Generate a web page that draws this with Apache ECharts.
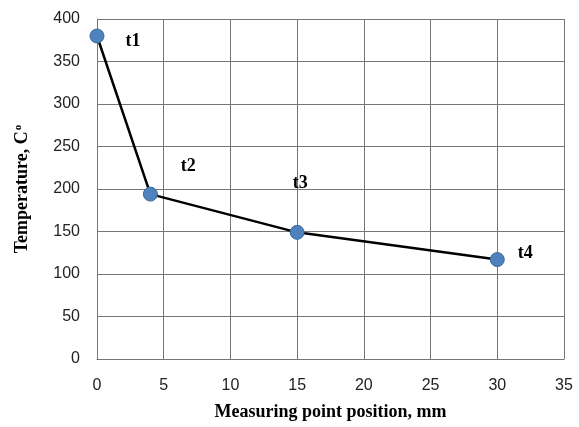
<!DOCTYPE html>
<html><head><meta charset="utf-8">
<script src="https://cdn.jsdelivr.net/npm/echarts@6/dist/echarts.min.js"></script>
<style>html,body{margin:0;padding:0;background:#fff}#c{width:579px;height:427px}</style>
</head><body><div id="c"></div>
<script>
var xValues = [0, 4, 15, 30];
var temps = [380, 194, 149, 117];
var pointLabels = ['t1', 't2', 't3', 't4'];
var labelOffsets = [[36, 5], [38, -28], [3, -49], [28, -6]];

var chart = echarts.init(document.getElementById('c'));
var data = xValues.map(function (x, i) {
  return {
    value: [x, temps[i]],
    label: { show: true, formatter: pointLabels[i], position: 'inside', offset: labelOffsets[i] }
  };
});
chart.setOption({
  animation: false,
  grid: { left: 97, right: 15, top: 19, bottom: 68, containLabel: false, outerBoundsMode: 'none' },
  xAxis: {
    type: 'value', min: 0, max: 35, interval: 5,
    name: 'Measuring point position, mm', nameLocation: 'middle', nameGap: 44,
    nameTextStyle: { fontFamily: 'Liberation Serif', fontWeight: 'bold', fontSize: 18, color: '#000' },
    axisLine: { show: true, lineStyle: { color: '#777', width: 1 } },
    axisTick: { show: false },
    axisLabel: { fontFamily: 'Liberation Sans', fontSize: 16, color: '#222', margin: 19 },
    splitLine: { show: true, lineStyle: { color: '#777', width: 1 } }
  },
  yAxis: {
    type: 'value', min: 0, max: 400, interval: 50,
    name: 'Temperature, C{sup|o}', nameLocation: 'middle', nameGap: 65, nameRotate: 90,
    nameTextStyle: { fontFamily: 'Liberation Serif', fontWeight: 'bold', fontSize: 18, color: '#000',
      rich: { sup: { fontFamily: 'Liberation Serif', fontSize: 11, verticalAlign: 'top', padding: [0,0,8,1], color: '#000' } } },
    axisLine: { show: true, lineStyle: { color: '#777', width: 1 } },
    axisTick: { show: false },
    axisLabel: { fontFamily: 'Liberation Sans', fontSize: 16, color: '#222', margin: 17 },
    splitLine: { show: true, lineStyle: { color: '#777', width: 1 } }
  },
  series: [{
    type: 'line',
    data: data,
    symbol: 'circle', symbolSize: 14,
    lineStyle: { color: '#000', width: 2.5 },
    itemStyle: { color: '#4F81BD', borderColor: '#3a6aa0', borderWidth: 1 },
    label: { fontFamily: 'Liberation Serif', fontWeight: 'bold', fontSize: 18, color: '#000' }
  }]
});
</script></body></html>
